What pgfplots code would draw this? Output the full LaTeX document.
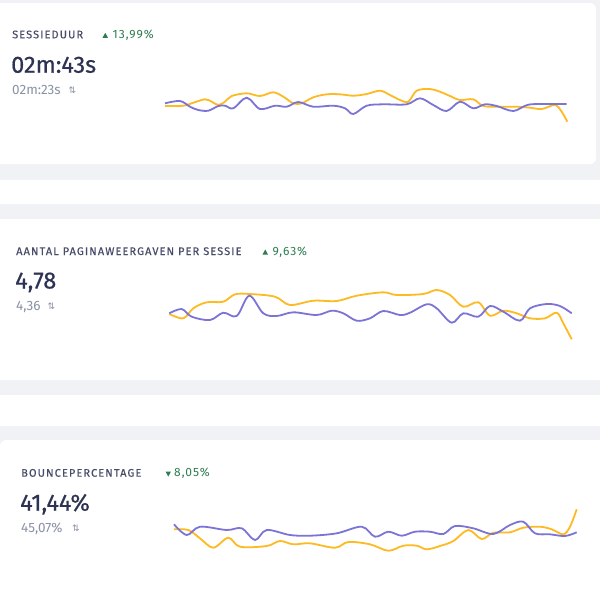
\documentclass[border=0pt]{standalone}
\usepackage{pgfplots}
\pgfplotsset{compat=1.18}
\usepackage{fontspec}
\setmainfont{Fira Sans}
\newfontfamily\symfont{DejaVu Sans}
\definecolor{bg}{HTML}{F1F2F6}
\definecolor{ttl}{HTML}{474C69}
\definecolor{big}{HTML}{2E3354}
\definecolor{sub}{HTML}{8A92A6}
\definecolor{grn}{HTML}{2F7D52}
\definecolor{ylw}{HTML}{FDBA21}
\definecolor{prp}{HTML}{7B74D4}
\newcommand\ttlfont{\fontsize{11}{13}\selectfont\addfontfeatures{LetterSpace=10,FakeBold=0.3}}
\newcommand\grnfont{\fontsize{12}{14}\selectfont\addfontfeatures{LetterSpace=8}}
\newcommand\bigfont{\fontsize{23.5}{26}\selectfont\addfontfeatures{FakeBold=0.6}}
\newcommand\subfont{\fontsize{13.5}{15}\selectfont}
\begin{document}
\begin{tikzpicture}[x=1pt,y=-1pt]
\useasboundingbox (0,0) rectangle (600,600);
\fill[bg] (0,0) rectangle (600,600);
% white gaps
\fill[white] (0,180) rectangle (600,204);
\fill[white] (0,395) rectangle (600,426);
% cards
\fill[white, rounded corners=6pt] (-10,3) rectangle (596,164);
\fill[white] (0,219) rectangle (600,380);
\fill[white, rounded corners=6pt] (0,440) rectangle (610,610);
% card 1 text
\node[anchor=base west, inner sep=0pt, text=ttl, font=\ttlfont] at (12,38.3) {SESSIEDUUR};
\fill[grn] (102.5,37.8) -- (108,37.8) -- (105.3,32.8) -- cycle;
\node[anchor=base west, inner sep=0pt, text=grn, font=\grnfont] at (112.5,38.3) {13,99\%};
\node[anchor=base west, inner sep=0pt, text=big, font=\bigfont] at (11,72.7) {02m:43s};
\node[anchor=base west, inner sep=0pt, text=sub, font=\subfont] at (12,94.3) {02m:23s};
\node[anchor=base west, inner sep=0pt, text=sub, font=\symfont\fontsize{9}{10}\selectfont] at (68.5,93.5) {⇅};
% card 2 text
\node[anchor=base west, inner sep=0pt, text=ttl, font=\ttlfont] at (16,255) {AANTAL PAGINAWEERGAVEN PER SESSIE};
\fill[grn] (262.5,254.5) -- (268,254.5) -- (265.3,249.5) -- cycle;
\node[anchor=base west, inner sep=0pt, text=grn, font=\grnfont] at (272.5,255) {9,63\%};
\node[anchor=base west, inner sep=0pt, text=big, font=\bigfont] at (15,288.5) {4,78};
\node[anchor=base west, inner sep=0pt, text=sub, font=\subfont] at (16,310) {4,36};
\node[anchor=base west, inner sep=0pt, text=sub, font=\symfont\fontsize{9}{10}\selectfont] at (47.5,309.5) {⇅};
% card 3 text
\node[anchor=base west, inner sep=0pt, text=ttl, font=\ttlfont] at (21,476.7) {BOUNCEPERCENTAGE};
\fill[grn] (165.5,471.5) -- (171,471.5) -- (168.3,476.5) -- cycle;
\node[anchor=base west, inner sep=0pt, text=grn, font=\grnfont] at (174,476.7) {8,05\%};
\node[anchor=base west, inner sep=0pt, text=big, font=\bigfont] at (20,510.7) {41,44\%};
\node[anchor=base west, inner sep=0pt, text=sub, font=\subfont] at (21,532.3) {45,07\%};
\node[anchor=base west, inner sep=0pt, text=sub, font=\symfont\fontsize{9}{10}\selectfont] at (72,531.5) {⇅};
\begin{axis}[at={(0pt,0pt)}, anchor=north west, width=600pt, height=600pt,
  scale only axis, xmin=0, xmax=600, ymin=0, ymax=600, y dir=reverse,
  hide axis, clip=false]
% chart 1
\addplot[ylw, line width=1.8pt, smooth, tension=0.55] coordinates {
(165,106) (183.3,105.7) (193.3,102.7) (205,99.3) (211.7,101.7) (218.3,105) (225,101.7)
(231.7,96) (246.7,93.3) (260,96) (273.3,92.3) (283.3,96.7) (293.3,103.3) (301.7,103.3)
(313.3,97.3) (326.7,94.3) (340,94.3) (353.3,95.7) (366.7,94) (380,90.7) (390,95)
(400,100) (408.3,101.7) (416.7,90.7) (430,89) (440,91.7) (450,96) (460,100) (473.3,99.3)
(483.3,106) (500,106.7) (516.7,106.7) (530,107.7) (541.7,109) (555,105) (561.7,111.7) (567.3,121.7)};
\addplot[prp, line width=1.8pt, smooth, tension=0.55] coordinates {
(165,103.3) (180,101) (190,106.7) (198.3,110) (208.3,110.7) (218.3,106) (225,105.7)
(233.3,108.3) (246.7,97.7) (260,109) (275,105.7) (286.7,106.7) (298.3,102) (313.3,106.7)
(333.3,105.7) (345,108.3) (353.3,114) (366.7,105.7) (383.3,104.3) (406.7,104.3) (420,98.3)
(433.3,105) (446.7,111) (460,101.7) (473.3,108.3) (485,104.3) (496.7,106) (513.3,111)
(528.3,104.7) (550,104) (566.7,104)};
% chart 2
\addplot[ylw, line width=1.8pt, smooth, tension=0.55] coordinates {
(169.3,314) (183.3,318.3) (193.3,308.3) (206.7,302.3) (223.3,301.7) (235,294.3) (250,294)
(275,296.7) (290,305) (313.3,300.7) (336.7,301) (356.7,295.7) (383.3,292.3) (396.7,295)
(423.3,294) (436.7,290) (450,295) (463.3,306.7) (478.3,302.3) (490,315.7) (503.3,310.7)
(516.7,313.3) (530,318.3) (545,318.3) (556.7,312.7) (563.3,323.3) (571.7,339.3)};
\addplot[prp, line width=1.8pt, smooth, tension=0.55] coordinates {
(169.3,313.3) (181.7,309) (191.7,316.7) (210,320) (223.3,312.7) (236.7,316) (249.3,295.7)
(263.3,313.3) (276.7,316) (293.3,312.3) (316.7,315) (331.7,310.7) (343.3,313.3)
(356.7,320.7) (370,318.3) (383.3,311) (400,315) (410,312.7) (426.7,304.3) (436.7,308.3)
(451.7,322.7) (463.3,313.3) (478.3,316.7) (490,306) (503.3,311.7) (520,320.7) (530,308.3)
(546.7,304) (560,306) (571.7,313.3)};
% chart 3
\addplot[ylw, line width=1.8pt, smooth, tension=0.55] coordinates {
(174,529.3) (188.3,530) (200,538.3) (213.3,547.7) (228.3,537.7) (240,546.7) (266.7,546)
(280,541) (293.3,544.3) (310,543.3) (335,547.7) (348.3,542) (370,544.3) (388.3,550.7)
(403.3,545.7) (416.7,545.7) (426.7,549.3) (440,546) (453.3,541) (468.3,530) (481.7,539)
(493.3,532.7) (510,532.3) (523.3,527.7) (540,526.7) (551.7,529.3) (563.3,534.3)
(570,526.7) (576.7,509.3)};
\addplot[prp, line width=1.8pt, smooth, tension=0.55] coordinates {
(174,524.3) (186.7,535) (200,526.7) (226.7,530) (241.7,528.3) (255,540) (266.7,530)
(290,535) (310,535.7) (336.7,533.3) (361.7,526.7) (375,536.7) (388.3,531.7) (401.7,535.7)
(415,531.7) (430,531.7) (443.3,534) (455,526) (473.3,528.3) (493.3,534) (510,525)
(523.3,521.7) (535,533.3) (550,534.3) (565,536) (576.7,532.3)};
\end{axis}
\end{tikzpicture}
\end{document}
